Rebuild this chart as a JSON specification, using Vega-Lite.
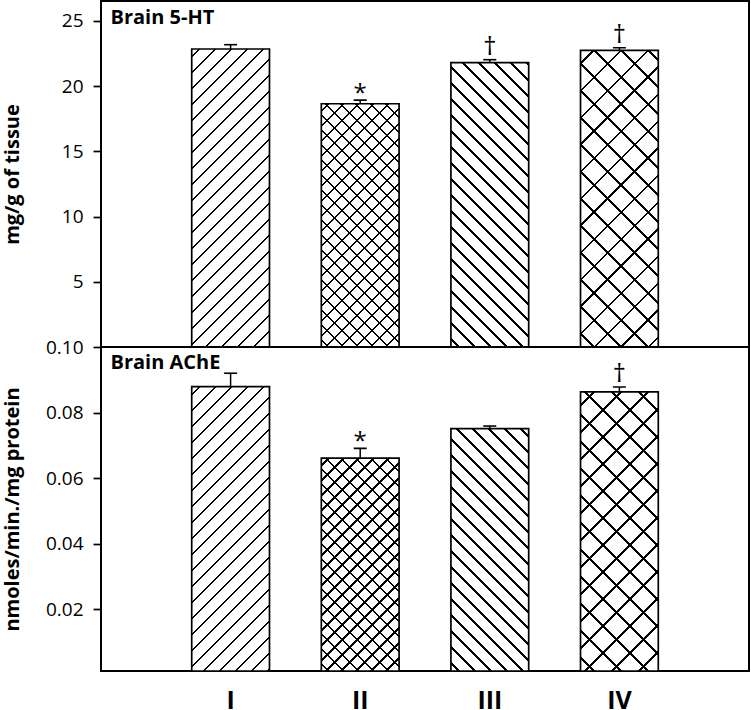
{
"$schema":"https://vega.github.io/schema/vega-lite/v6.json",
"padding":{"left":1,"top":0,"right":2,"bottom":0},
"spacing":0,
"bounds":"flush",
"resolve":{"scale":{"y":"independent"}},
"config":{"view":{"stroke":"black","strokeWidth":2},"axis":{"labelFont":"Open Sans","titleFont":"Open Sans","labelColor":"black","titleColor":"black"}},
"vconcat":[
{
"width":648,"height":346,
"data":{"values":[
{"group":"I","value":22.85,"upper":23.18,"sig":""},
{"group":"II","value":18.65,"upper":18.93,"sig":"*"},
{"group":"III","value":21.8,"upper":22.03,"sig":"†"},
{"group":"IV","value":22.75,"upper":22.95,"sig":"†"}]},
"encoding":{
"x":{"field":"group","type":"ordinal","title":"Brain 5-HT","scale":{"paddingInner":0.4,"paddingOuter":0.7},"axis":{"orient":"top","labels":false,"ticks":false,"domain":false,"grid":false,"titleX":9,"titleY":22,"titleAlign":"left","titleAnchor":"start","titleBaseline":"alphabetic","titleAngle":0,"titleFontSize":20,"titleFontWeight":"bold"}},
"y":{"field":"value","type":"quantitative","title":"mg/g of tissue","scale":{"domain":[0,26.53],"nice":false,"zero":false},"axis":{"values":[5,10,15,20,25],"domain":false,"grid":false,"tickSize":8,"tickWidth":1.7,"tickColor":"black","labelFontSize":19,"labelPadding":10,"titleFontSize":20,"titleFontWeight":"bold","titleX":-79}}
},
"layer":[
{"mark":{"type":"bar","fill":"white","strokeWidth":0}},
{"transform":[{"filter":"datum.group=='I'"}],"mark":{"type":"bar","strokeWidth":0,"fill":{"gradient":"linear","x1":0,"y1":0,"x2":0.3279,"y2":1.2567,"stops":[{"offset":0.017,"color":"#0000"},{"offset":0.017,"color":"#000"},{"offset":0.023,"color":"#000"},{"offset":0.023,"color":"#0000"},{"offset":0.057,"color":"#0000"},{"offset":0.057,"color":"#000"},{"offset":0.063,"color":"#000"},{"offset":0.063,"color":"#0000"},{"offset":0.097,"color":"#0000"},{"offset":0.097,"color":"#000"},{"offset":0.103,"color":"#000"},{"offset":0.103,"color":"#0000"},{"offset":0.137,"color":"#0000"},{"offset":0.137,"color":"#000"},{"offset":0.143,"color":"#000"},{"offset":0.143,"color":"#0000"},{"offset":0.177,"color":"#0000"},{"offset":0.177,"color":"#000"},{"offset":0.183,"color":"#000"},{"offset":0.183,"color":"#0000"},{"offset":0.217,"color":"#0000"},{"offset":0.217,"color":"#000"},{"offset":0.223,"color":"#000"},{"offset":0.223,"color":"#0000"},{"offset":0.257,"color":"#0000"},{"offset":0.257,"color":"#000"},{"offset":0.263,"color":"#000"},{"offset":0.263,"color":"#0000"},{"offset":0.297,"color":"#0000"},{"offset":0.297,"color":"#000"},{"offset":0.303,"color":"#000"},{"offset":0.303,"color":"#0000"},{"offset":0.337,"color":"#0000"},{"offset":0.337,"color":"#000"},{"offset":0.343,"color":"#000"},{"offset":0.343,"color":"#0000"},{"offset":0.377,"color":"#0000"},{"offset":0.377,"color":"#000"},{"offset":0.383,"color":"#000"},{"offset":0.383,"color":"#0000"},{"offset":0.417,"color":"#0000"},{"offset":0.417,"color":"#000"},{"offset":0.423,"color":"#000"},{"offset":0.423,"color":"#0000"},{"offset":0.457,"color":"#0000"},{"offset":0.457,"color":"#000"},{"offset":0.463,"color":"#000"},{"offset":0.463,"color":"#0000"},{"offset":0.497,"color":"#0000"},{"offset":0.497,"color":"#000"},{"offset":0.503,"color":"#000"},{"offset":0.503,"color":"#0000"},{"offset":0.537,"color":"#0000"},{"offset":0.537,"color":"#000"},{"offset":0.543,"color":"#000"},{"offset":0.543,"color":"#0000"},{"offset":0.577,"color":"#0000"},{"offset":0.577,"color":"#000"},{"offset":0.583,"color":"#000"},{"offset":0.583,"color":"#0000"},{"offset":0.617,"color":"#0000"},{"offset":0.617,"color":"#000"},{"offset":0.623,"color":"#000"},{"offset":0.623,"color":"#0000"},{"offset":0.657,"color":"#0000"},{"offset":0.657,"color":"#000"},{"offset":0.663,"color":"#000"},{"offset":0.663,"color":"#0000"},{"offset":0.697,"color":"#0000"},{"offset":0.697,"color":"#000"},{"offset":0.703,"color":"#000"},{"offset":0.703,"color":"#0000"},{"offset":0.737,"color":"#0000"},{"offset":0.737,"color":"#000"},{"offset":0.743,"color":"#000"},{"offset":0.743,"color":"#0000"},{"offset":0.777,"color":"#0000"},{"offset":0.777,"color":"#000"},{"offset":0.783,"color":"#000"},{"offset":0.783,"color":"#0000"},{"offset":0.817,"color":"#0000"},{"offset":0.817,"color":"#000"},{"offset":0.823,"color":"#000"},{"offset":0.823,"color":"#0000"},{"offset":0.857,"color":"#0000"},{"offset":0.857,"color":"#000"},{"offset":0.863,"color":"#000"},{"offset":0.863,"color":"#0000"},{"offset":0.897,"color":"#0000"},{"offset":0.897,"color":"#000"},{"offset":0.903,"color":"#000"},{"offset":0.903,"color":"#0000"},{"offset":0.937,"color":"#0000"},{"offset":0.937,"color":"#000"},{"offset":0.943,"color":"#000"},{"offset":0.943,"color":"#0000"}]}}},
{"transform":[{"filter":"datum.group=='II'"}],"mark":{"type":"bar","strokeWidth":0,"fill":{"gradient":"linear","x1":0,"y1":0,"x2":0.4473,"y2":1.3989,"stops":[{"offset":0.017,"color":"#0000"},{"offset":0.017,"color":"#000"},{"offset":0.023,"color":"#000"},{"offset":0.023,"color":"#0000"},{"offset":0.057,"color":"#0000"},{"offset":0.057,"color":"#000"},{"offset":0.063,"color":"#000"},{"offset":0.063,"color":"#0000"},{"offset":0.097,"color":"#0000"},{"offset":0.097,"color":"#000"},{"offset":0.103,"color":"#000"},{"offset":0.103,"color":"#0000"},{"offset":0.137,"color":"#0000"},{"offset":0.137,"color":"#000"},{"offset":0.143,"color":"#000"},{"offset":0.143,"color":"#0000"},{"offset":0.177,"color":"#0000"},{"offset":0.177,"color":"#000"},{"offset":0.183,"color":"#000"},{"offset":0.183,"color":"#0000"},{"offset":0.217,"color":"#0000"},{"offset":0.217,"color":"#000"},{"offset":0.223,"color":"#000"},{"offset":0.223,"color":"#0000"},{"offset":0.257,"color":"#0000"},{"offset":0.257,"color":"#000"},{"offset":0.263,"color":"#000"},{"offset":0.263,"color":"#0000"},{"offset":0.297,"color":"#0000"},{"offset":0.297,"color":"#000"},{"offset":0.303,"color":"#000"},{"offset":0.303,"color":"#0000"},{"offset":0.337,"color":"#0000"},{"offset":0.337,"color":"#000"},{"offset":0.343,"color":"#000"},{"offset":0.343,"color":"#0000"},{"offset":0.377,"color":"#0000"},{"offset":0.377,"color":"#000"},{"offset":0.383,"color":"#000"},{"offset":0.383,"color":"#0000"},{"offset":0.417,"color":"#0000"},{"offset":0.417,"color":"#000"},{"offset":0.423,"color":"#000"},{"offset":0.423,"color":"#0000"},{"offset":0.457,"color":"#0000"},{"offset":0.457,"color":"#000"},{"offset":0.463,"color":"#000"},{"offset":0.463,"color":"#0000"},{"offset":0.497,"color":"#0000"},{"offset":0.497,"color":"#000"},{"offset":0.503,"color":"#000"},{"offset":0.503,"color":"#0000"},{"offset":0.537,"color":"#0000"},{"offset":0.537,"color":"#000"},{"offset":0.543,"color":"#000"},{"offset":0.543,"color":"#0000"},{"offset":0.577,"color":"#0000"},{"offset":0.577,"color":"#000"},{"offset":0.583,"color":"#000"},{"offset":0.583,"color":"#0000"},{"offset":0.617,"color":"#0000"},{"offset":0.617,"color":"#000"},{"offset":0.623,"color":"#000"},{"offset":0.623,"color":"#0000"},{"offset":0.657,"color":"#0000"},{"offset":0.657,"color":"#000"},{"offset":0.663,"color":"#000"},{"offset":0.663,"color":"#0000"},{"offset":0.697,"color":"#0000"},{"offset":0.697,"color":"#000"},{"offset":0.703,"color":"#000"},{"offset":0.703,"color":"#0000"},{"offset":0.737,"color":"#0000"},{"offset":0.737,"color":"#000"},{"offset":0.743,"color":"#000"},{"offset":0.743,"color":"#0000"},{"offset":0.777,"color":"#0000"},{"offset":0.777,"color":"#000"},{"offset":0.783,"color":"#000"},{"offset":0.783,"color":"#0000"},{"offset":0.817,"color":"#0000"},{"offset":0.817,"color":"#000"},{"offset":0.823,"color":"#000"},{"offset":0.823,"color":"#0000"},{"offset":0.857,"color":"#0000"},{"offset":0.857,"color":"#000"},{"offset":0.863,"color":"#000"},{"offset":0.863,"color":"#0000"}]}}},
{"transform":[{"filter":"datum.group=='II'"}],"mark":{"type":"bar","strokeWidth":0,"fill":{"gradient":"linear","x1":0,"y1":1,"x2":0.4473,"y2":-0.3989,"stops":[{"offset":0.017,"color":"#0000"},{"offset":0.017,"color":"#000"},{"offset":0.023,"color":"#000"},{"offset":0.023,"color":"#0000"},{"offset":0.057,"color":"#0000"},{"offset":0.057,"color":"#000"},{"offset":0.063,"color":"#000"},{"offset":0.063,"color":"#0000"},{"offset":0.097,"color":"#0000"},{"offset":0.097,"color":"#000"},{"offset":0.103,"color":"#000"},{"offset":0.103,"color":"#0000"},{"offset":0.137,"color":"#0000"},{"offset":0.137,"color":"#000"},{"offset":0.143,"color":"#000"},{"offset":0.143,"color":"#0000"},{"offset":0.177,"color":"#0000"},{"offset":0.177,"color":"#000"},{"offset":0.183,"color":"#000"},{"offset":0.183,"color":"#0000"},{"offset":0.217,"color":"#0000"},{"offset":0.217,"color":"#000"},{"offset":0.223,"color":"#000"},{"offset":0.223,"color":"#0000"},{"offset":0.257,"color":"#0000"},{"offset":0.257,"color":"#000"},{"offset":0.263,"color":"#000"},{"offset":0.263,"color":"#0000"},{"offset":0.297,"color":"#0000"},{"offset":0.297,"color":"#000"},{"offset":0.303,"color":"#000"},{"offset":0.303,"color":"#0000"},{"offset":0.337,"color":"#0000"},{"offset":0.337,"color":"#000"},{"offset":0.343,"color":"#000"},{"offset":0.343,"color":"#0000"},{"offset":0.377,"color":"#0000"},{"offset":0.377,"color":"#000"},{"offset":0.383,"color":"#000"},{"offset":0.383,"color":"#0000"},{"offset":0.417,"color":"#0000"},{"offset":0.417,"color":"#000"},{"offset":0.423,"color":"#000"},{"offset":0.423,"color":"#0000"},{"offset":0.457,"color":"#0000"},{"offset":0.457,"color":"#000"},{"offset":0.463,"color":"#000"},{"offset":0.463,"color":"#0000"},{"offset":0.497,"color":"#0000"},{"offset":0.497,"color":"#000"},{"offset":0.503,"color":"#000"},{"offset":0.503,"color":"#0000"},{"offset":0.537,"color":"#0000"},{"offset":0.537,"color":"#000"},{"offset":0.543,"color":"#000"},{"offset":0.543,"color":"#0000"},{"offset":0.577,"color":"#0000"},{"offset":0.577,"color":"#000"},{"offset":0.583,"color":"#000"},{"offset":0.583,"color":"#0000"},{"offset":0.617,"color":"#0000"},{"offset":0.617,"color":"#000"},{"offset":0.623,"color":"#000"},{"offset":0.623,"color":"#0000"},{"offset":0.657,"color":"#0000"},{"offset":0.657,"color":"#000"},{"offset":0.663,"color":"#000"},{"offset":0.663,"color":"#0000"},{"offset":0.697,"color":"#0000"},{"offset":0.697,"color":"#000"},{"offset":0.703,"color":"#000"},{"offset":0.703,"color":"#0000"},{"offset":0.737,"color":"#0000"},{"offset":0.737,"color":"#000"},{"offset":0.743,"color":"#000"},{"offset":0.743,"color":"#0000"},{"offset":0.777,"color":"#0000"},{"offset":0.777,"color":"#000"},{"offset":0.783,"color":"#000"},{"offset":0.783,"color":"#0000"},{"offset":0.817,"color":"#0000"},{"offset":0.817,"color":"#000"},{"offset":0.823,"color":"#000"},{"offset":0.823,"color":"#0000"},{"offset":0.857,"color":"#0000"},{"offset":0.857,"color":"#000"},{"offset":0.863,"color":"#000"},{"offset":0.863,"color":"#0000"}]}}},
{"transform":[{"filter":"datum.group=='III'"}],"mark":{"type":"bar","strokeWidth":0,"fill":{"gradient":"linear","x1":0,"y1":1,"x2":0.358,"y2":-0.309,"stops":[{"offset":0.017,"color":"#0000"},{"offset":0.017,"color":"#000"},{"offset":0.023,"color":"#000"},{"offset":0.023,"color":"#0000"},{"offset":0.057,"color":"#0000"},{"offset":0.057,"color":"#000"},{"offset":0.063,"color":"#000"},{"offset":0.063,"color":"#0000"},{"offset":0.097,"color":"#0000"},{"offset":0.097,"color":"#000"},{"offset":0.103,"color":"#000"},{"offset":0.103,"color":"#0000"},{"offset":0.137,"color":"#0000"},{"offset":0.137,"color":"#000"},{"offset":0.143,"color":"#000"},{"offset":0.143,"color":"#0000"},{"offset":0.177,"color":"#0000"},{"offset":0.177,"color":"#000"},{"offset":0.183,"color":"#000"},{"offset":0.183,"color":"#0000"},{"offset":0.217,"color":"#0000"},{"offset":0.217,"color":"#000"},{"offset":0.223,"color":"#000"},{"offset":0.223,"color":"#0000"},{"offset":0.257,"color":"#0000"},{"offset":0.257,"color":"#000"},{"offset":0.263,"color":"#000"},{"offset":0.263,"color":"#0000"},{"offset":0.297,"color":"#0000"},{"offset":0.297,"color":"#000"},{"offset":0.303,"color":"#000"},{"offset":0.303,"color":"#0000"},{"offset":0.337,"color":"#0000"},{"offset":0.337,"color":"#000"},{"offset":0.343,"color":"#000"},{"offset":0.343,"color":"#0000"},{"offset":0.377,"color":"#0000"},{"offset":0.377,"color":"#000"},{"offset":0.383,"color":"#000"},{"offset":0.383,"color":"#0000"},{"offset":0.417,"color":"#0000"},{"offset":0.417,"color":"#000"},{"offset":0.423,"color":"#000"},{"offset":0.423,"color":"#0000"},{"offset":0.457,"color":"#0000"},{"offset":0.457,"color":"#000"},{"offset":0.463,"color":"#000"},{"offset":0.463,"color":"#0000"},{"offset":0.497,"color":"#0000"},{"offset":0.497,"color":"#000"},{"offset":0.503,"color":"#000"},{"offset":0.503,"color":"#0000"},{"offset":0.537,"color":"#0000"},{"offset":0.537,"color":"#000"},{"offset":0.543,"color":"#000"},{"offset":0.543,"color":"#0000"},{"offset":0.577,"color":"#0000"},{"offset":0.577,"color":"#000"},{"offset":0.583,"color":"#000"},{"offset":0.583,"color":"#0000"},{"offset":0.617,"color":"#0000"},{"offset":0.617,"color":"#000"},{"offset":0.623,"color":"#000"},{"offset":0.623,"color":"#0000"},{"offset":0.657,"color":"#0000"},{"offset":0.657,"color":"#000"},{"offset":0.663,"color":"#000"},{"offset":0.663,"color":"#0000"},{"offset":0.697,"color":"#0000"},{"offset":0.697,"color":"#000"},{"offset":0.703,"color":"#000"},{"offset":0.703,"color":"#0000"},{"offset":0.737,"color":"#0000"},{"offset":0.737,"color":"#000"},{"offset":0.743,"color":"#000"},{"offset":0.743,"color":"#0000"},{"offset":0.777,"color":"#0000"},{"offset":0.777,"color":"#000"},{"offset":0.783,"color":"#000"},{"offset":0.783,"color":"#0000"},{"offset":0.817,"color":"#0000"},{"offset":0.817,"color":"#000"},{"offset":0.823,"color":"#000"},{"offset":0.823,"color":"#0000"},{"offset":0.857,"color":"#0000"},{"offset":0.857,"color":"#000"},{"offset":0.863,"color":"#000"},{"offset":0.863,"color":"#0000"},{"offset":0.897,"color":"#0000"},{"offset":0.897,"color":"#000"},{"offset":0.903,"color":"#000"},{"offset":0.903,"color":"#0000"}]}}},
{"transform":[{"filter":"datum.group=='IV'"}],"mark":{"type":"bar","strokeWidth":0,"fill":{"gradient":"linear","x1":0,"y1":0,"x2":0.3348,"y2":1.2773,"stops":[{"offset":0.030,"color":"#0000"},{"offset":0.030,"color":"#000"},{"offset":0.036,"color":"#000"},{"offset":0.036,"color":"#0000"},{"offset":0.097,"color":"#0000"},{"offset":0.097,"color":"#000"},{"offset":0.103,"color":"#000"},{"offset":0.103,"color":"#0000"},{"offset":0.164,"color":"#0000"},{"offset":0.164,"color":"#000"},{"offset":0.170,"color":"#000"},{"offset":0.170,"color":"#0000"},{"offset":0.230,"color":"#0000"},{"offset":0.230,"color":"#000"},{"offset":0.236,"color":"#000"},{"offset":0.236,"color":"#0000"},{"offset":0.297,"color":"#0000"},{"offset":0.297,"color":"#000"},{"offset":0.303,"color":"#000"},{"offset":0.303,"color":"#0000"},{"offset":0.364,"color":"#0000"},{"offset":0.364,"color":"#000"},{"offset":0.370,"color":"#000"},{"offset":0.370,"color":"#0000"},{"offset":0.430,"color":"#0000"},{"offset":0.430,"color":"#000"},{"offset":0.436,"color":"#000"},{"offset":0.436,"color":"#0000"},{"offset":0.497,"color":"#0000"},{"offset":0.497,"color":"#000"},{"offset":0.503,"color":"#000"},{"offset":0.503,"color":"#0000"},{"offset":0.564,"color":"#0000"},{"offset":0.564,"color":"#000"},{"offset":0.570,"color":"#000"},{"offset":0.570,"color":"#0000"},{"offset":0.630,"color":"#0000"},{"offset":0.630,"color":"#000"},{"offset":0.636,"color":"#000"},{"offset":0.636,"color":"#0000"},{"offset":0.697,"color":"#0000"},{"offset":0.697,"color":"#000"},{"offset":0.703,"color":"#000"},{"offset":0.703,"color":"#0000"},{"offset":0.764,"color":"#0000"},{"offset":0.764,"color":"#000"},{"offset":0.770,"color":"#000"},{"offset":0.770,"color":"#0000"},{"offset":0.830,"color":"#0000"},{"offset":0.830,"color":"#000"},{"offset":0.836,"color":"#000"},{"offset":0.836,"color":"#0000"},{"offset":0.897,"color":"#0000"},{"offset":0.897,"color":"#000"},{"offset":0.903,"color":"#000"},{"offset":0.903,"color":"#0000"}]}}},
{"transform":[{"filter":"datum.group=='IV'"}],"mark":{"type":"bar","strokeWidth":0,"fill":{"gradient":"linear","x1":0,"y1":1,"x2":0.3348,"y2":-0.2773,"stops":[{"offset":0.030,"color":"#0000"},{"offset":0.030,"color":"#000"},{"offset":0.036,"color":"#000"},{"offset":0.036,"color":"#0000"},{"offset":0.097,"color":"#0000"},{"offset":0.097,"color":"#000"},{"offset":0.103,"color":"#000"},{"offset":0.103,"color":"#0000"},{"offset":0.164,"color":"#0000"},{"offset":0.164,"color":"#000"},{"offset":0.170,"color":"#000"},{"offset":0.170,"color":"#0000"},{"offset":0.230,"color":"#0000"},{"offset":0.230,"color":"#000"},{"offset":0.236,"color":"#000"},{"offset":0.236,"color":"#0000"},{"offset":0.297,"color":"#0000"},{"offset":0.297,"color":"#000"},{"offset":0.303,"color":"#000"},{"offset":0.303,"color":"#0000"},{"offset":0.364,"color":"#0000"},{"offset":0.364,"color":"#000"},{"offset":0.370,"color":"#000"},{"offset":0.370,"color":"#0000"},{"offset":0.430,"color":"#0000"},{"offset":0.430,"color":"#000"},{"offset":0.436,"color":"#000"},{"offset":0.436,"color":"#0000"},{"offset":0.497,"color":"#0000"},{"offset":0.497,"color":"#000"},{"offset":0.503,"color":"#000"},{"offset":0.503,"color":"#0000"},{"offset":0.564,"color":"#0000"},{"offset":0.564,"color":"#000"},{"offset":0.570,"color":"#000"},{"offset":0.570,"color":"#0000"},{"offset":0.630,"color":"#0000"},{"offset":0.630,"color":"#000"},{"offset":0.636,"color":"#000"},{"offset":0.636,"color":"#0000"},{"offset":0.697,"color":"#0000"},{"offset":0.697,"color":"#000"},{"offset":0.703,"color":"#000"},{"offset":0.703,"color":"#0000"},{"offset":0.764,"color":"#0000"},{"offset":0.764,"color":"#000"},{"offset":0.770,"color":"#000"},{"offset":0.770,"color":"#0000"},{"offset":0.830,"color":"#0000"},{"offset":0.830,"color":"#000"},{"offset":0.836,"color":"#000"},{"offset":0.836,"color":"#0000"},{"offset":0.897,"color":"#0000"},{"offset":0.897,"color":"#000"},{"offset":0.903,"color":"#000"},{"offset":0.903,"color":"#0000"}]}}},
{"mark":{"type":"bar","fillOpacity":0,"stroke":"black","strokeWidth":1.7}},
{"mark":{"type":"rule","color":"black","strokeWidth":1.5},"encoding":{"y2":{"field":"upper"}}},
{"mark":{"type":"tick","orient":"horizontal","size":13,"thickness":1.6,"color":"black","opacity":1},"encoding":{"y":{"field":"upper","type":"quantitative","title":"mg/g of tissue"}}},
{"transform":[{"filter":"datum.sig=='*'"}],"mark":{"type":"text","font":"Open Sans","fontSize":24,"color":"black","baseline":"alphabetic","dy":1},"encoding":{"y":{"field":"upper","type":"quantitative","title":"mg/g of tissue"},"text":{"field":"sig"}}},
{"transform":[{"filter":"datum.sig=='†'"}],"mark":{"type":"text","font":"Open Sans","fontSize":26,"color":"black","baseline":"alphabetic","dy":-5},"encoding":{"y":{"field":"upper","type":"quantitative","title":"mg/g of tissue"},"text":{"field":"sig"}}}
]
},
{
"width":648,"height":324,
"data":{"values":[
{"group":"I","value":0.0879,"upper":0.092,"sig":""},
{"group":"II","value":0.0661,"upper":0.0691,"sig":"*"},
{"group":"III","value":0.0751,"upper":0.0759,"sig":""},
{"group":"IV","value":0.0863,"upper":0.0878,"sig":"†"}]},
"encoding":{
"x":{"field":"group","type":"ordinal","title":"Brain AChE","scale":{"paddingInner":0.4,"paddingOuter":0.7},"axis":{"labelAngle":0,"ticks":false,"domain":false,"grid":false,"labelFontSize":25,"labelFontWeight":"bold","labelPadding":17,"titleX":9,"titleY":-303,"titleAlign":"left","titleAnchor":"start","titleBaseline":"alphabetic","titleAngle":0,"titleFontSize":20,"titleFontWeight":"bold"}},
"y":{"field":"value","type":"quantitative","title":"nmoles/min./mg protein","scale":{"domain":[0.0012,0.1],"nice":false,"zero":false,"clamp":true},"axis":{"values":[0.02,0.04,0.06,0.08,0.1],"format":".2f","domain":false,"grid":false,"tickSize":8,"tickWidth":1.7,"tickColor":"black","labelFontSize":19,"labelPadding":10,"titleFontSize":20,"titleFontWeight":"bold","titleX":-79}}
},
"layer":[
{"mark":{"type":"bar","fill":"white","strokeWidth":0}},
{"transform":[{"filter":"datum.group=='I'"}],"mark":{"type":"bar","strokeWidth":0,"fill":{"gradient":"linear","x1":0,"y1":0,"x2":0.358,"y2":1.309,"stops":[{"offset":0.017,"color":"#0000"},{"offset":0.017,"color":"#000"},{"offset":0.023,"color":"#000"},{"offset":0.023,"color":"#0000"},{"offset":0.057,"color":"#0000"},{"offset":0.057,"color":"#000"},{"offset":0.063,"color":"#000"},{"offset":0.063,"color":"#0000"},{"offset":0.097,"color":"#0000"},{"offset":0.097,"color":"#000"},{"offset":0.103,"color":"#000"},{"offset":0.103,"color":"#0000"},{"offset":0.137,"color":"#0000"},{"offset":0.137,"color":"#000"},{"offset":0.143,"color":"#000"},{"offset":0.143,"color":"#0000"},{"offset":0.177,"color":"#0000"},{"offset":0.177,"color":"#000"},{"offset":0.183,"color":"#000"},{"offset":0.183,"color":"#0000"},{"offset":0.217,"color":"#0000"},{"offset":0.217,"color":"#000"},{"offset":0.223,"color":"#000"},{"offset":0.223,"color":"#0000"},{"offset":0.257,"color":"#0000"},{"offset":0.257,"color":"#000"},{"offset":0.263,"color":"#000"},{"offset":0.263,"color":"#0000"},{"offset":0.297,"color":"#0000"},{"offset":0.297,"color":"#000"},{"offset":0.303,"color":"#000"},{"offset":0.303,"color":"#0000"},{"offset":0.337,"color":"#0000"},{"offset":0.337,"color":"#000"},{"offset":0.343,"color":"#000"},{"offset":0.343,"color":"#0000"},{"offset":0.377,"color":"#0000"},{"offset":0.377,"color":"#000"},{"offset":0.383,"color":"#000"},{"offset":0.383,"color":"#0000"},{"offset":0.417,"color":"#0000"},{"offset":0.417,"color":"#000"},{"offset":0.423,"color":"#000"},{"offset":0.423,"color":"#0000"},{"offset":0.457,"color":"#0000"},{"offset":0.457,"color":"#000"},{"offset":0.463,"color":"#000"},{"offset":0.463,"color":"#0000"},{"offset":0.497,"color":"#0000"},{"offset":0.497,"color":"#000"},{"offset":0.503,"color":"#000"},{"offset":0.503,"color":"#0000"},{"offset":0.537,"color":"#0000"},{"offset":0.537,"color":"#000"},{"offset":0.543,"color":"#000"},{"offset":0.543,"color":"#0000"},{"offset":0.577,"color":"#0000"},{"offset":0.577,"color":"#000"},{"offset":0.583,"color":"#000"},{"offset":0.583,"color":"#0000"},{"offset":0.617,"color":"#0000"},{"offset":0.617,"color":"#000"},{"offset":0.623,"color":"#000"},{"offset":0.623,"color":"#0000"},{"offset":0.657,"color":"#0000"},{"offset":0.657,"color":"#000"},{"offset":0.663,"color":"#000"},{"offset":0.663,"color":"#0000"},{"offset":0.697,"color":"#0000"},{"offset":0.697,"color":"#000"},{"offset":0.703,"color":"#000"},{"offset":0.703,"color":"#0000"},{"offset":0.737,"color":"#0000"},{"offset":0.737,"color":"#000"},{"offset":0.743,"color":"#000"},{"offset":0.743,"color":"#0000"},{"offset":0.777,"color":"#0000"},{"offset":0.777,"color":"#000"},{"offset":0.783,"color":"#000"},{"offset":0.783,"color":"#0000"},{"offset":0.817,"color":"#0000"},{"offset":0.817,"color":"#000"},{"offset":0.823,"color":"#000"},{"offset":0.823,"color":"#0000"},{"offset":0.857,"color":"#0000"},{"offset":0.857,"color":"#000"},{"offset":0.863,"color":"#000"},{"offset":0.863,"color":"#0000"},{"offset":0.897,"color":"#0000"},{"offset":0.897,"color":"#000"},{"offset":0.903,"color":"#000"},{"offset":0.903,"color":"#0000"}]}}},
{"transform":[{"filter":"datum.group=='II'"}],"mark":{"type":"bar","strokeWidth":0,"fill":{"gradient":"linear","x1":0,"y1":0,"x2":0.5681,"y2":1.5546,"stops":[{"offset":0.017,"color":"#0000"},{"offset":0.017,"color":"#000"},{"offset":0.023,"color":"#000"},{"offset":0.023,"color":"#0000"},{"offset":0.057,"color":"#0000"},{"offset":0.057,"color":"#000"},{"offset":0.063,"color":"#000"},{"offset":0.063,"color":"#0000"},{"offset":0.097,"color":"#0000"},{"offset":0.097,"color":"#000"},{"offset":0.103,"color":"#000"},{"offset":0.103,"color":"#0000"},{"offset":0.137,"color":"#0000"},{"offset":0.137,"color":"#000"},{"offset":0.143,"color":"#000"},{"offset":0.143,"color":"#0000"},{"offset":0.177,"color":"#0000"},{"offset":0.177,"color":"#000"},{"offset":0.183,"color":"#000"},{"offset":0.183,"color":"#0000"},{"offset":0.217,"color":"#0000"},{"offset":0.217,"color":"#000"},{"offset":0.223,"color":"#000"},{"offset":0.223,"color":"#0000"},{"offset":0.257,"color":"#0000"},{"offset":0.257,"color":"#000"},{"offset":0.263,"color":"#000"},{"offset":0.263,"color":"#0000"},{"offset":0.297,"color":"#0000"},{"offset":0.297,"color":"#000"},{"offset":0.303,"color":"#000"},{"offset":0.303,"color":"#0000"},{"offset":0.337,"color":"#0000"},{"offset":0.337,"color":"#000"},{"offset":0.343,"color":"#000"},{"offset":0.343,"color":"#0000"},{"offset":0.377,"color":"#0000"},{"offset":0.377,"color":"#000"},{"offset":0.383,"color":"#000"},{"offset":0.383,"color":"#0000"},{"offset":0.417,"color":"#0000"},{"offset":0.417,"color":"#000"},{"offset":0.423,"color":"#000"},{"offset":0.423,"color":"#0000"},{"offset":0.457,"color":"#0000"},{"offset":0.457,"color":"#000"},{"offset":0.463,"color":"#000"},{"offset":0.463,"color":"#0000"},{"offset":0.497,"color":"#0000"},{"offset":0.497,"color":"#000"},{"offset":0.503,"color":"#000"},{"offset":0.503,"color":"#0000"},{"offset":0.537,"color":"#0000"},{"offset":0.537,"color":"#000"},{"offset":0.543,"color":"#000"},{"offset":0.543,"color":"#0000"},{"offset":0.577,"color":"#0000"},{"offset":0.577,"color":"#000"},{"offset":0.583,"color":"#000"},{"offset":0.583,"color":"#0000"},{"offset":0.617,"color":"#0000"},{"offset":0.617,"color":"#000"},{"offset":0.623,"color":"#000"},{"offset":0.623,"color":"#0000"},{"offset":0.657,"color":"#0000"},{"offset":0.657,"color":"#000"},{"offset":0.663,"color":"#000"},{"offset":0.663,"color":"#0000"},{"offset":0.697,"color":"#0000"},{"offset":0.697,"color":"#000"},{"offset":0.703,"color":"#000"},{"offset":0.703,"color":"#0000"},{"offset":0.737,"color":"#0000"},{"offset":0.737,"color":"#000"},{"offset":0.743,"color":"#000"},{"offset":0.743,"color":"#0000"},{"offset":0.777,"color":"#0000"},{"offset":0.777,"color":"#000"},{"offset":0.783,"color":"#000"},{"offset":0.783,"color":"#0000"}]}}},
{"transform":[{"filter":"datum.group=='II'"}],"mark":{"type":"bar","strokeWidth":0,"fill":{"gradient":"linear","x1":0,"y1":1,"x2":0.5681,"y2":-0.5546,"stops":[{"offset":0.017,"color":"#0000"},{"offset":0.017,"color":"#000"},{"offset":0.023,"color":"#000"},{"offset":0.023,"color":"#0000"},{"offset":0.057,"color":"#0000"},{"offset":0.057,"color":"#000"},{"offset":0.063,"color":"#000"},{"offset":0.063,"color":"#0000"},{"offset":0.097,"color":"#0000"},{"offset":0.097,"color":"#000"},{"offset":0.103,"color":"#000"},{"offset":0.103,"color":"#0000"},{"offset":0.137,"color":"#0000"},{"offset":0.137,"color":"#000"},{"offset":0.143,"color":"#000"},{"offset":0.143,"color":"#0000"},{"offset":0.177,"color":"#0000"},{"offset":0.177,"color":"#000"},{"offset":0.183,"color":"#000"},{"offset":0.183,"color":"#0000"},{"offset":0.217,"color":"#0000"},{"offset":0.217,"color":"#000"},{"offset":0.223,"color":"#000"},{"offset":0.223,"color":"#0000"},{"offset":0.257,"color":"#0000"},{"offset":0.257,"color":"#000"},{"offset":0.263,"color":"#000"},{"offset":0.263,"color":"#0000"},{"offset":0.297,"color":"#0000"},{"offset":0.297,"color":"#000"},{"offset":0.303,"color":"#000"},{"offset":0.303,"color":"#0000"},{"offset":0.337,"color":"#0000"},{"offset":0.337,"color":"#000"},{"offset":0.343,"color":"#000"},{"offset":0.343,"color":"#0000"},{"offset":0.377,"color":"#0000"},{"offset":0.377,"color":"#000"},{"offset":0.383,"color":"#000"},{"offset":0.383,"color":"#0000"},{"offset":0.417,"color":"#0000"},{"offset":0.417,"color":"#000"},{"offset":0.423,"color":"#000"},{"offset":0.423,"color":"#0000"},{"offset":0.457,"color":"#0000"},{"offset":0.457,"color":"#000"},{"offset":0.463,"color":"#000"},{"offset":0.463,"color":"#0000"},{"offset":0.497,"color":"#0000"},{"offset":0.497,"color":"#000"},{"offset":0.503,"color":"#000"},{"offset":0.503,"color":"#0000"},{"offset":0.537,"color":"#0000"},{"offset":0.537,"color":"#000"},{"offset":0.543,"color":"#000"},{"offset":0.543,"color":"#0000"},{"offset":0.577,"color":"#0000"},{"offset":0.577,"color":"#000"},{"offset":0.583,"color":"#000"},{"offset":0.583,"color":"#0000"},{"offset":0.617,"color":"#0000"},{"offset":0.617,"color":"#000"},{"offset":0.623,"color":"#000"},{"offset":0.623,"color":"#0000"},{"offset":0.657,"color":"#0000"},{"offset":0.657,"color":"#000"},{"offset":0.663,"color":"#000"},{"offset":0.663,"color":"#0000"},{"offset":0.697,"color":"#0000"},{"offset":0.697,"color":"#000"},{"offset":0.703,"color":"#000"},{"offset":0.703,"color":"#0000"},{"offset":0.737,"color":"#0000"},{"offset":0.737,"color":"#000"},{"offset":0.743,"color":"#000"},{"offset":0.743,"color":"#0000"},{"offset":0.777,"color":"#0000"},{"offset":0.777,"color":"#000"},{"offset":0.783,"color":"#000"},{"offset":0.783,"color":"#0000"}]}}},
{"transform":[{"filter":"datum.group=='III'"}],"mark":{"type":"bar","strokeWidth":0,"fill":{"gradient":"linear","x1":0,"y1":1,"x2":0.4803,"y2":-0.4967,"stops":[{"offset":0.017,"color":"#0000"},{"offset":0.017,"color":"#000"},{"offset":0.023,"color":"#000"},{"offset":0.023,"color":"#0000"},{"offset":0.057,"color":"#0000"},{"offset":0.057,"color":"#000"},{"offset":0.063,"color":"#000"},{"offset":0.063,"color":"#0000"},{"offset":0.097,"color":"#0000"},{"offset":0.097,"color":"#000"},{"offset":0.103,"color":"#000"},{"offset":0.103,"color":"#0000"},{"offset":0.137,"color":"#0000"},{"offset":0.137,"color":"#000"},{"offset":0.143,"color":"#000"},{"offset":0.143,"color":"#0000"},{"offset":0.177,"color":"#0000"},{"offset":0.177,"color":"#000"},{"offset":0.183,"color":"#000"},{"offset":0.183,"color":"#0000"},{"offset":0.217,"color":"#0000"},{"offset":0.217,"color":"#000"},{"offset":0.223,"color":"#000"},{"offset":0.223,"color":"#0000"},{"offset":0.257,"color":"#0000"},{"offset":0.257,"color":"#000"},{"offset":0.263,"color":"#000"},{"offset":0.263,"color":"#0000"},{"offset":0.297,"color":"#0000"},{"offset":0.297,"color":"#000"},{"offset":0.303,"color":"#000"},{"offset":0.303,"color":"#0000"},{"offset":0.337,"color":"#0000"},{"offset":0.337,"color":"#000"},{"offset":0.343,"color":"#000"},{"offset":0.343,"color":"#0000"},{"offset":0.377,"color":"#0000"},{"offset":0.377,"color":"#000"},{"offset":0.383,"color":"#000"},{"offset":0.383,"color":"#0000"},{"offset":0.417,"color":"#0000"},{"offset":0.417,"color":"#000"},{"offset":0.423,"color":"#000"},{"offset":0.423,"color":"#0000"},{"offset":0.457,"color":"#0000"},{"offset":0.457,"color":"#000"},{"offset":0.463,"color":"#000"},{"offset":0.463,"color":"#0000"},{"offset":0.497,"color":"#0000"},{"offset":0.497,"color":"#000"},{"offset":0.503,"color":"#000"},{"offset":0.503,"color":"#0000"},{"offset":0.537,"color":"#0000"},{"offset":0.537,"color":"#000"},{"offset":0.543,"color":"#000"},{"offset":0.543,"color":"#0000"},{"offset":0.577,"color":"#0000"},{"offset":0.577,"color":"#000"},{"offset":0.583,"color":"#000"},{"offset":0.583,"color":"#0000"},{"offset":0.617,"color":"#0000"},{"offset":0.617,"color":"#000"},{"offset":0.623,"color":"#000"},{"offset":0.623,"color":"#0000"},{"offset":0.657,"color":"#0000"},{"offset":0.657,"color":"#000"},{"offset":0.663,"color":"#000"},{"offset":0.663,"color":"#0000"},{"offset":0.697,"color":"#0000"},{"offset":0.697,"color":"#000"},{"offset":0.703,"color":"#000"},{"offset":0.703,"color":"#0000"},{"offset":0.737,"color":"#0000"},{"offset":0.737,"color":"#000"},{"offset":0.743,"color":"#000"},{"offset":0.743,"color":"#0000"},{"offset":0.777,"color":"#0000"},{"offset":0.777,"color":"#000"},{"offset":0.783,"color":"#000"},{"offset":0.783,"color":"#0000"}]}}},
{"transform":[{"filter":"datum.group=='IV'"}],"mark":{"type":"bar","strokeWidth":0,"fill":{"gradient":"linear","x1":0,"y1":0,"x2":0.3752,"y2":1.3466,"stops":[{"offset":0.030,"color":"#0000"},{"offset":0.030,"color":"#000"},{"offset":0.036,"color":"#000"},{"offset":0.036,"color":"#0000"},{"offset":0.097,"color":"#0000"},{"offset":0.097,"color":"#000"},{"offset":0.103,"color":"#000"},{"offset":0.103,"color":"#0000"},{"offset":0.164,"color":"#0000"},{"offset":0.164,"color":"#000"},{"offset":0.170,"color":"#000"},{"offset":0.170,"color":"#0000"},{"offset":0.230,"color":"#0000"},{"offset":0.230,"color":"#000"},{"offset":0.236,"color":"#000"},{"offset":0.236,"color":"#0000"},{"offset":0.297,"color":"#0000"},{"offset":0.297,"color":"#000"},{"offset":0.303,"color":"#000"},{"offset":0.303,"color":"#0000"},{"offset":0.364,"color":"#0000"},{"offset":0.364,"color":"#000"},{"offset":0.370,"color":"#000"},{"offset":0.370,"color":"#0000"},{"offset":0.430,"color":"#0000"},{"offset":0.430,"color":"#000"},{"offset":0.436,"color":"#000"},{"offset":0.436,"color":"#0000"},{"offset":0.497,"color":"#0000"},{"offset":0.497,"color":"#000"},{"offset":0.503,"color":"#000"},{"offset":0.503,"color":"#0000"},{"offset":0.564,"color":"#0000"},{"offset":0.564,"color":"#000"},{"offset":0.570,"color":"#000"},{"offset":0.570,"color":"#0000"},{"offset":0.630,"color":"#0000"},{"offset":0.630,"color":"#000"},{"offset":0.636,"color":"#000"},{"offset":0.636,"color":"#0000"},{"offset":0.697,"color":"#0000"},{"offset":0.697,"color":"#000"},{"offset":0.703,"color":"#000"},{"offset":0.703,"color":"#0000"},{"offset":0.764,"color":"#0000"},{"offset":0.764,"color":"#000"},{"offset":0.770,"color":"#000"},{"offset":0.770,"color":"#0000"},{"offset":0.830,"color":"#0000"},{"offset":0.830,"color":"#000"},{"offset":0.836,"color":"#000"},{"offset":0.836,"color":"#0000"},{"offset":0.897,"color":"#0000"},{"offset":0.897,"color":"#000"},{"offset":0.903,"color":"#000"},{"offset":0.903,"color":"#0000"}]}}},
{"transform":[{"filter":"datum.group=='IV'"}],"mark":{"type":"bar","strokeWidth":0,"fill":{"gradient":"linear","x1":0,"y1":1,"x2":0.3752,"y2":-0.3466,"stops":[{"offset":0.030,"color":"#0000"},{"offset":0.030,"color":"#000"},{"offset":0.036,"color":"#000"},{"offset":0.036,"color":"#0000"},{"offset":0.097,"color":"#0000"},{"offset":0.097,"color":"#000"},{"offset":0.103,"color":"#000"},{"offset":0.103,"color":"#0000"},{"offset":0.164,"color":"#0000"},{"offset":0.164,"color":"#000"},{"offset":0.170,"color":"#000"},{"offset":0.170,"color":"#0000"},{"offset":0.230,"color":"#0000"},{"offset":0.230,"color":"#000"},{"offset":0.236,"color":"#000"},{"offset":0.236,"color":"#0000"},{"offset":0.297,"color":"#0000"},{"offset":0.297,"color":"#000"},{"offset":0.303,"color":"#000"},{"offset":0.303,"color":"#0000"},{"offset":0.364,"color":"#0000"},{"offset":0.364,"color":"#000"},{"offset":0.370,"color":"#000"},{"offset":0.370,"color":"#0000"},{"offset":0.430,"color":"#0000"},{"offset":0.430,"color":"#000"},{"offset":0.436,"color":"#000"},{"offset":0.436,"color":"#0000"},{"offset":0.497,"color":"#0000"},{"offset":0.497,"color":"#000"},{"offset":0.503,"color":"#000"},{"offset":0.503,"color":"#0000"},{"offset":0.564,"color":"#0000"},{"offset":0.564,"color":"#000"},{"offset":0.570,"color":"#000"},{"offset":0.570,"color":"#0000"},{"offset":0.630,"color":"#0000"},{"offset":0.630,"color":"#000"},{"offset":0.636,"color":"#000"},{"offset":0.636,"color":"#0000"},{"offset":0.697,"color":"#0000"},{"offset":0.697,"color":"#000"},{"offset":0.703,"color":"#000"},{"offset":0.703,"color":"#0000"},{"offset":0.764,"color":"#0000"},{"offset":0.764,"color":"#000"},{"offset":0.770,"color":"#000"},{"offset":0.770,"color":"#0000"},{"offset":0.830,"color":"#0000"},{"offset":0.830,"color":"#000"},{"offset":0.836,"color":"#000"},{"offset":0.836,"color":"#0000"},{"offset":0.897,"color":"#0000"},{"offset":0.897,"color":"#000"},{"offset":0.903,"color":"#000"},{"offset":0.903,"color":"#0000"}]}}},
{"mark":{"type":"bar","fillOpacity":0,"stroke":"black","strokeWidth":1.7}},
{"mark":{"type":"rule","color":"black","strokeWidth":1.5},"encoding":{"y2":{"field":"upper"}}},
{"mark":{"type":"tick","orient":"horizontal","size":13,"thickness":1.6,"color":"black","opacity":1},"encoding":{"y":{"field":"upper","type":"quantitative","title":"nmoles/min./mg protein"}}},
{"transform":[{"filter":"datum.sig=='*'"}],"mark":{"type":"text","font":"Open Sans","fontSize":24,"color":"black","baseline":"alphabetic","dy":1},"encoding":{"y":{"field":"upper","type":"quantitative","title":"nmoles/min./mg protein"},"text":{"field":"sig"}}},
{"transform":[{"filter":"datum.sig=='†'"}],"mark":{"type":"text","font":"Open Sans","fontSize":26,"color":"black","baseline":"alphabetic","dy":-5},"encoding":{"y":{"field":"upper","type":"quantitative","title":"nmoles/min./mg protein"},"text":{"field":"sig"}}}
]
}
]
}
